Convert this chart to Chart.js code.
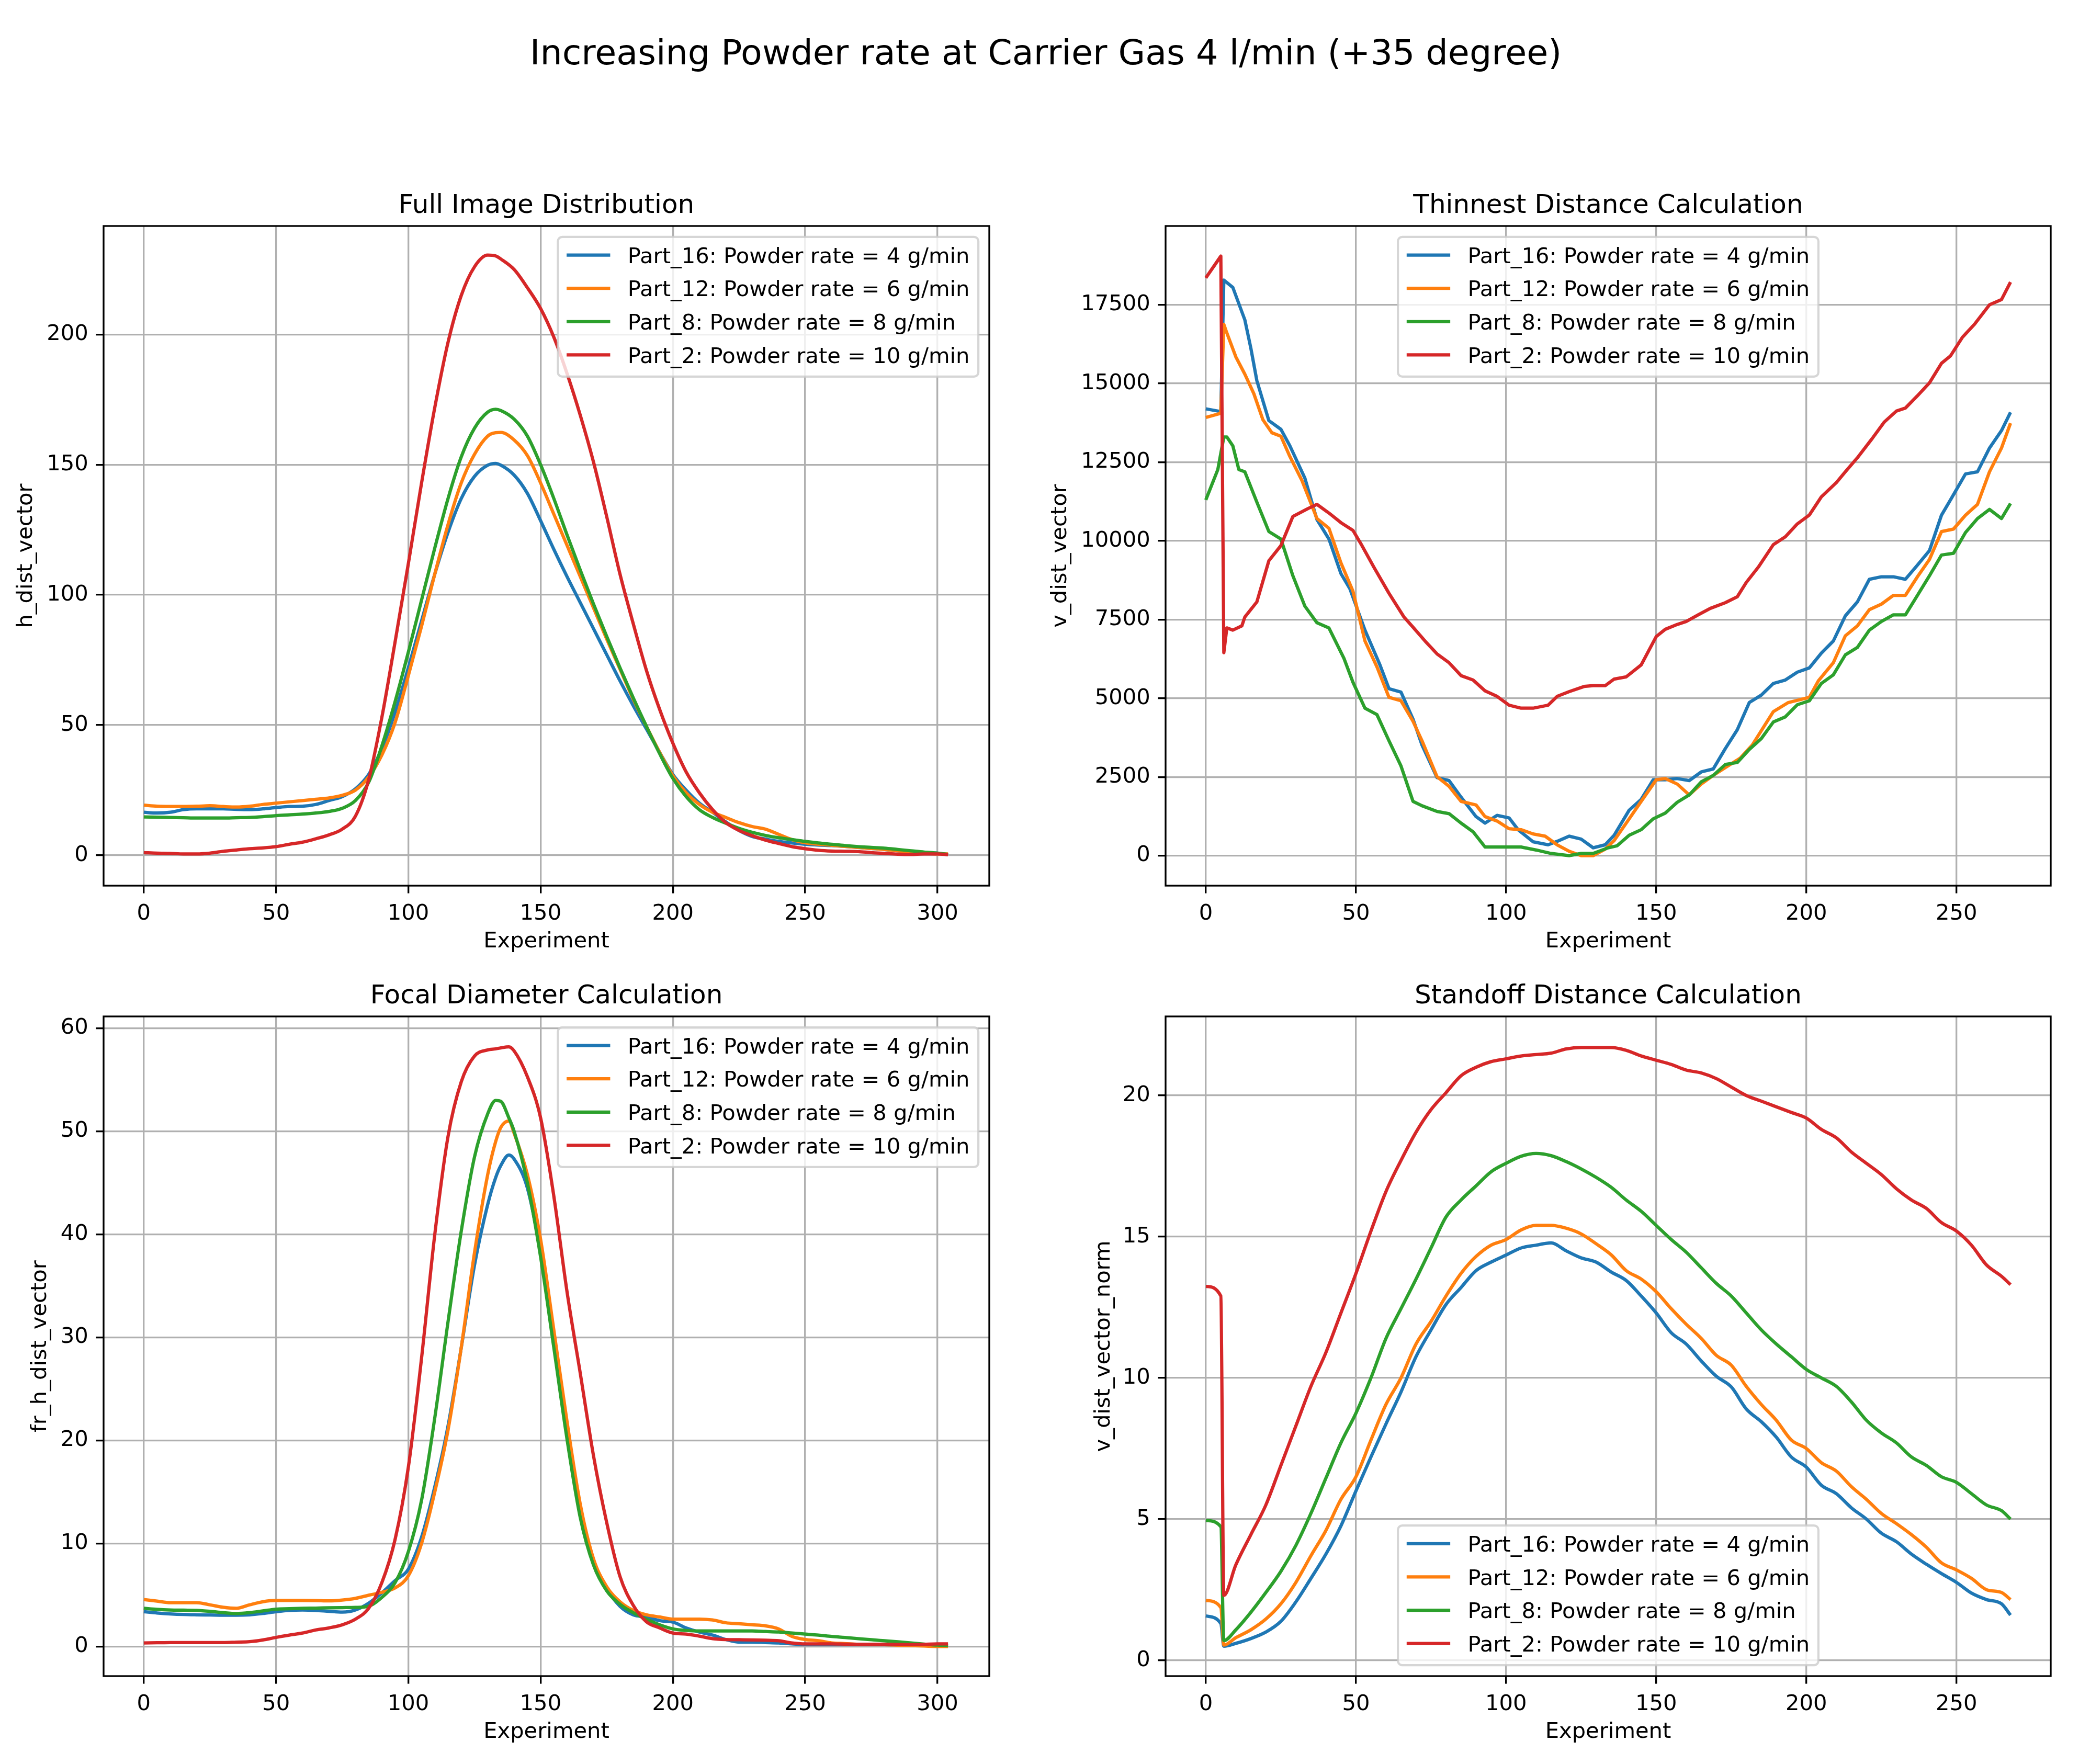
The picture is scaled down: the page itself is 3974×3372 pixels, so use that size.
<!DOCTYPE html>
<html>
<head>
<meta charset="utf-8">
<script src="https://cdn.jsdelivr.net/npm/chart.js@4.4.1/dist/chart.umd.min.js"></script>
<style>
  html, body { margin: 0; padding: 0; background: #fff; }
  body { width: 3974px; height: 3372px; position: relative; overflow: hidden; }
  #suptitle { position: absolute; left: 24px; width: 3950px; top: 67px; text-align: center;
              font-family: "DejaVu Sans", sans-serif; font-size: 66.7px; line-height: 66.7px; color: #000; }
  canvas { position: absolute; }
</style>
</head>
<body>
<div id="suptitle">Increasing Powder rate at Carrier Gas 4 l/min (+35 degree)</div>
<canvas id="chart_1" width="1911" height="1499" style="left:0px;top:334px"></canvas>
<canvas id="chart_2" width="1990" height="1499" style="left:1950px;top:334px"></canvas>
<canvas id="chart_3" width="1911" height="1499" style="left:0px;top:1845px"></canvas>
<canvas id="chart_4" width="1990" height="1499" style="left:1950px;top:1845px"></canvas>
<script>
const seriesLabels = [
  "Part_16: Powder rate = 4 g/min",
  "Part_12: Powder rate = 6 g/min",
  "Part_8: Powder rate = 8 g/min",
  "Part_2: Powder rate = 10 g/min",
];
const seriesColors = ["#1f77b4", "#ff7f0e", "#2ca02c", "#d62728"];

// Full Image Distribution
const fullX = [0,5,10,15,20,25,30,35,40,45,50,55,60,65,70,75,80,85,90,95,100,105,110,115,120,125,130,133,135,140,145,150,155,160,165,170,175,180,185,190,195,200,205,210,215,220,225,230,235,240,245,250,255,260,265,270,275,280,285,290,295,300,304];
const fullBlue = [16.5,16.2,16.5,17.5,17.8,17.8,17.8,17.6,17.5,17.8,18.3,18.7,18.8,19.5,21,22.5,25.5,31,41,55,72,90,108,124,137,145.5,149.8,150.5,149.8,146,139,128.5,117.5,107,97,87,77,67,57.5,48.5,39.5,31,25,20,16.5,12.8,9.5,7.2,6.2,5.3,4.7,4.2,3.9,3.7,3.4,3,2.6,2.2,1.7,1.2,1,0.8,0.2];
const fullOrange = [19.2,18.8,18.7,18.7,18.8,19,18.7,18.5,18.8,19.5,20,20.5,21,21.5,22,23,25,30,38.5,51,69,88,108,127,143,154,161,162.3,162.4,159.5,153.5,143,131,119,107,95,83,71.5,60,49.5,39.5,30.5,24,19.5,16.5,14.5,12.5,11,10,8,6,4.8,4.2,3.8,3.4,3,2.6,2.2,1.7,1.2,0.8,0.5,0.5];
const fullGreen = [14.7,14.6,14.5,14.4,14.3,14.3,14.3,14.4,14.5,14.8,15.2,15.5,15.8,16.2,16.8,18,21,28,42,59,78,98,118,137,153,164,170.2,171.3,170.8,167.5,161,150,137,123,109.5,96.5,84,72,60.5,49.5,39,29.5,22.5,17.5,14.5,12.3,10.3,8.8,7.6,6.7,6,5.3,4.7,4.2,3.7,3.3,3,2.7,2.2,1.7,1.2,0.8,0.3];
const fullRed = [1,0.8,0.7,0.5,0.5,0.8,1.5,2,2.5,2.8,3.3,4.2,5,6.3,7.8,10,15,29,53,82,112,143,172,197,215,226,230.5,230.2,229,225,218,210,199,185,169,151,130,108,89,71,56,43,32,24,17.5,12.5,9.5,7.5,5.8,4.5,3.3,2.5,1.9,1.6,1.5,1.4,1,0.7,0.4,0.3,0.5,0.5,0.2];

// Thinnest Distance Calculation
const thinBlueX = [0,4,5,6,9,13,15,17,21,25,28,33,37,41,45,48,53,58,61,65,69,72,77,81,85,90,93,97,101,104,109,114,117,121,125,129,133,136,141,145,149,153,157,161,165,169,173,177,181,185,189,193,197,201,205,209,213,217,221,225,229,233,237,241,245,248,253,257,261,265,268];
const thinBlue = [14195,14125,14100,18285,18050,17020,16120,15090,13820,13545,13020,11990,10680,10060,8960,8475,7165,6060,5305,5195,4340,3515,2480,2385,1860,1240,1035,1280,1200,825,440,345,455,620,525,250,345,650,1445,1790,2410,2410,2450,2385,2660,2755,3400,4000,4865,5100,5470,5580,5830,5965,6435,6820,7620,8060,8780,8860,8860,8780,9230,9690,10815,11300,12125,12195,12950,13505,14085];
const thinOrangeX = [0,5,6,7,10,13,16,19,22,25,28,32,37,41,45,49,53,57,61,65,69,72,77,81,85,90,93,97,101,105,109,113,117,121,125,129,133,136,141,145,150,153,157,161,165,169,173,178,182,189,194,201,204,209,213,217,221,225,229,233,237,241,245,249,253,257,261,265,268];
const thinOrange = [13920,14055,16880,16605,15845,15295,14675,13850,13435,13325,12680,11920,10710,10400,9300,8405,6820,5995,5030,4920,4270,3650,2510,2205,1725,1610,1240,1100,855,825,690,620,345,140,0,0,205,480,1170,1725,2410,2450,2275,1930,2275,2550,2795,3100,3515,4575,4865,5030,5555,6130,6985,7300,7815,7990,8270,8270,8860,9410,10295,10375,10815,11160,12195,12950,13740];
const thinGreenX = [0,4,6,7,9,11,13,17,21,25,29,33,37,41,46,49,53,57,61,65,69,72,77,81,85,89,93,100,105,110,115,121,125,129,134,137,141,145,149,153,157,161,165,169,173,177,181,185,189,193,197,201,205,209,213,217,221,225,229,233,237,241,245,249,253,257,261,265,268];
const thinGreen = [11300,12265,13300,13300,13020,12265,12195,11230,10295,10060,8890,7925,7400,7235,6270,5510,4685,4480,3650,2850,1725,1585,1405,1335,1035,760,275,275,275,180,70,0,70,70,250,315,650,825,1170,1350,1695,1930,2345,2550,2895,2960,3375,3720,4245,4410,4795,4920,5470,5745,6380,6615,7165,7440,7650,7650,8270,8890,9550,9605,10265,10710,11000,10710,11190];
const thinRedX = [0,5,6,7,9,12,13,17,21,25,29,34,37,41,45,49,52,56,61,66,69,73,77,81,85,89,93,97,101,105,109,114,117,121,126,129,133,136,140,145,150,153,157,160,164,168,173,177,180,184,189,193,197,201,205,210,213,217,222,226,230,233,237,241,245,248,252,256,261,265,268];
const thinRed = [18355,19045,6450,7235,7165,7300,7580,8060,9370,9850,10775,11025,11160,10885,10580,10335,9850,9160,8335,7580,7260,6820,6410,6130,5720,5580,5235,5060,4780,4685,4685,4780,5060,5210,5375,5400,5400,5610,5680,6060,6960,7190,7345,7440,7650,7855,8035,8225,8680,9165,9880,10130,10540,10820,11400,11850,12195,12640,13260,13780,14125,14220,14610,15020,15640,15875,16470,16880,17500,17665,18220];

// Focal Diameter Calculation
const focalX = [0,5,10,15,20,25,30,35,40,45,50,55,60,65,70,75,80,85,90,95,100,105,110,115,120,125,130,133,135,138,140,145,150,155,160,165,170,175,180,185,190,195,200,205,210,215,220,225,230,235,240,245,250,255,260,265,270,275,280,285,290,295,300,304];
const focalBlue = [3.37,3.25,3.16,3.1,3.07,3.05,3.03,3.03,3.07,3.2,3.37,3.5,3.54,3.5,3.41,3.33,3.54,4.2,5.2,6.4,7.5,10.6,15.5,21.4,29,37,42.9,45.5,46.7,47.7,47.3,44.5,38.2,29.8,21.4,13.4,8.3,5.6,3.9,3.07,2.86,2.5,2.36,1.8,1.4,1.1,0.67,0.42,0.42,0.38,0.34,0.25,0.17,0.17,0.17,0.17,0.17,0.17,0.17,0.15,0.13,0.1,0.08,0.08];
const focalOrange = [4.55,4.4,4.25,4.25,4.25,4.04,3.8,3.7,4.04,4.34,4.46,4.46,4.46,4.45,4.42,4.5,4.67,4.97,5.26,5.68,6.86,10,15,21,29,38.2,45.8,49,50.4,51,49.8,45.8,39.5,30.7,21.8,13.8,8.5,5.8,4.34,3.5,3.07,2.86,2.65,2.65,2.65,2.57,2.3,2.2,2.1,2,1.7,0.97,0.67,0.55,0.34,0.28,0.21,0.19,0.17,0.12,0.08,0.04,0,0];
const focalGreen = [3.7,3.6,3.54,3.52,3.5,3.41,3.28,3.2,3.28,3.45,3.62,3.66,3.7,3.72,3.75,3.77,3.79,3.9,4.76,6.2,9.2,14.2,22.2,31.5,40.3,47.5,51.7,53,52.9,51.3,50,45,37.8,29,20.1,12.5,7.9,5.4,4.1,3.28,2.65,2.1,1.7,1.55,1.5,1.5,1.5,1.5,1.5,1.45,1.4,1.3,1.2,1.1,0.97,0.87,0.76,0.65,0.55,0.45,0.34,0.23,0.13,0.1];
const focalRed = [0.34,0.36,0.38,0.38,0.38,0.38,0.38,0.42,0.46,0.63,0.88,1.1,1.3,1.6,1.8,2.1,2.65,3.7,6.2,10.4,17.4,28,40,49.5,54.8,57.3,57.9,58,58.1,58.2,57.8,55.3,51.3,43.7,34.4,26.5,18.5,12,6.8,4,2.4,1.8,1.3,1.2,1,0.76,0.67,0.65,0.63,0.6,0.55,0.34,0.25,0.25,0.25,0.23,0.21,0.21,0.21,0.19,0.17,0.2,0.25,0.25];

// Standoff Distance Calculation
const standX = [0,5,6,10,15,20,25,30,35,40,45,50,55,60,65,70,75,80,85,90,95,100,105,110,115,120,125,130,135,140,145,150,155,160,165,170,175,180,185,190,195,200,205,210,215,220,225,230,235,240,245,250,255,260,265,268];
const standBlue = [1.57,1.3,0.5,0.6,0.77,1,1.38,2.07,2.9,3.76,4.76,6,7.2,8.37,9.5,10.75,11.7,12.6,13.2,13.8,14.1,14.35,14.6,14.7,14.78,14.5,14.25,14.1,13.75,13.45,12.9,12.3,11.6,11.2,10.6,10.06,9.68,8.9,8.45,7.9,7.2,6.84,6.2,5.9,5.4,5,4.5,4.2,3.76,3.4,3.07,2.76,2.38,2.15,2,1.6];
const standOrange = [2.12,1.87,0.54,0.8,1.08,1.46,2,2.76,3.7,4.6,5.7,6.5,7.8,9.06,10,11.2,12,12.9,13.7,14.3,14.7,14.9,15.24,15.4,15.4,15.3,15.1,14.75,14.36,13.8,13.5,13.05,12.45,11.9,11.4,10.8,10.45,9.7,9.06,8.5,7.8,7.5,7,6.7,6.15,5.7,5.2,4.84,4.45,4,3.45,3.2,2.9,2.5,2.4,2.15];
const standGreen = [4.95,4.73,0.7,1.08,1.7,2.4,3.15,4.07,5.2,6.45,7.7,8.75,10,11.4,12.45,13.5,14.6,15.7,16.3,16.8,17.3,17.6,17.85,17.95,17.87,17.66,17.4,17.1,16.75,16.3,15.9,15.4,14.9,14.45,13.9,13.35,12.9,12.3,11.7,11.2,10.75,10.3,10,9.7,9.15,8.5,8.05,7.7,7.2,6.9,6.5,6.3,5.9,5.5,5.3,5];
const standRed = [13.24,12.9,2.3,3.38,4.45,5.5,6.9,8.3,9.7,10.9,12.3,13.7,15.2,16.6,17.7,18.7,19.5,20.1,20.7,21,21.2,21.3,21.4,21.45,21.5,21.65,21.7,21.7,21.7,21.6,21.4,21.25,21.1,20.9,20.8,20.6,20.3,20,19.8,19.6,19.4,19.2,18.8,18.5,18,17.6,17.2,16.7,16.3,16,15.5,15.2,14.7,14,13.6,13.3];

// tick labels
const xTicksLong = [0,50,100,150,200,250,300];
const xTicksShort = [0,50,100,150,200,250];
const fullYTicks = [0,50,100,150,200];
const thinYTicks = [0,2500,5000,7500,10000,12500,15000,17500];
const focalYTicks = [0,10,20,30,40,50,60];
const standYTicks = [0,5,10,15,20];

const PT = 300 / 72;
const FAMILY = '"DejaVu Sans", sans-serif';
const tickFont = { family: FAMILY, size: 10 * PT };
const labelFont = { family: FAMILY, size: 10 * PT, lineHeight: 1.2 };

// spines, axes title and matplotlib-style legend drawn inside the plot area
const mplDecor = {
  id: "mplDecor",
  afterDatasetsDraw(chart, args, o) {
    const { ctx, chartArea: a } = chart;
    ctx.save();
    ctx.strokeStyle = "#000";
    ctx.lineWidth = 0.8 * PT;
    ctx.strokeRect(a.left, a.top, a.right - a.left, a.bottom - a.top);

    ctx.fillStyle = "#000";
    ctx.font = 12 * PT + "px " + FAMILY;
    ctx.textAlign = "center";
    ctx.textBaseline = "alphabetic";
    ctx.fillText(o.title, (a.left + a.right) / 2, a.top - 6 * PT);

    const fs = 10 * PT;
    ctx.font = fs + "px " + FAMILY;
    const textW = Math.max(...seriesLabels.map(t => ctx.measureText(t).width));
    const pad = 0.4 * fs, hLen = 2 * fs, hPad = 0.8 * fs, rowH = 42.8, gap = 0.5 * fs, bax = 0.5 * fs;
    const w = 2 * pad + hLen + hPad + textW;
    const h = 2 * pad + 4 * rowH + 3 * gap;
    let x0, y0;
    if (o.legendLoc === "upper right") { x0 = a.right - bax - w; y0 = a.top + bax; }
    else if (o.legendLoc === "upper center") { x0 = (a.left + a.right) / 2 - w / 2; y0 = a.top + bax; }
    else { x0 = (a.left + a.right) / 2 - w / 2; y0 = a.bottom - bax - h; }
    ctx.beginPath();
    ctx.roundRect(x0, y0, w, h, 0.2 * fs);
    ctx.fillStyle = "rgba(255,255,255,0.8)";
    ctx.fill();
    ctx.strokeStyle = "rgba(204,204,204,0.8)";
    ctx.lineWidth = PT;
    ctx.stroke();
    seriesLabels.forEach((label, i) => {
      const rowTop = y0 + pad + i * (rowH + gap);
      ctx.beginPath();
      ctx.moveTo(x0 + pad, rowTop + 18);
      ctx.lineTo(x0 + pad + hLen, rowTop + 18);
      ctx.strokeStyle = seriesColors[i];
      ctx.lineWidth = 1.5 * PT;
      ctx.stroke();
      ctx.fillStyle = "#000";
      ctx.textAlign = "left";
      ctx.fillText(label, x0 + pad + hLen + hPad, rowTop + 33.3);
    });
    ctx.restore();
  },
};

function gridOpts() {
  return { color: "#b0b0b0", lineWidth: 0.8 * PT, tickColor: "#000", tickWidth: 0.8 * PT, tickLength: 3.5 * PT };
}

function makeChart(id, cfg) {
  return new Chart(document.getElementById(id), {
    type: "line",
    data: {
      datasets: cfg.ys.map((ys, i) => ({
        label: seriesLabels[i],
        data: ys.map((y, j) => ({ x: cfg.xs[i][j], y: y })),
        borderColor: seriesColors[i],
        backgroundColor: seriesColors[i],
        borderWidth: 1.5 * PT,
        pointRadius: 0,
        fill: false,
        tension: 0,
        cubicInterpolationMode: cfg.smooth ? "monotone" : "default",
        borderJoinStyle: "round",
        order: 3 - i,
      })),
    },
    options: {
      responsive: false,
      animation: false,
      layout: { padding: { left: 0, top: 98, right: 20, bottom: 0 } },
      plugins: {
        legend: { display: false },
        tooltip: { enabled: false },
        title: { display: false },
        mplDecor: { title: cfg.title, legendLoc: cfg.legendLoc },
      },
      scales: {
        x: {
          type: "linear",
          min: cfg.xMin,
          max: cfg.xMax,
          afterBuildTicks: s => { s.ticks = cfg.xTicks.map(v => ({ value: v })); },
          afterFit: s => { s.height = 140; },
          ticks: { font: tickFont, color: "#000", padding: 3.5 * PT, maxRotation: 0, autoSkip: false, callback: v => String(v) },
          grid: gridOpts(),
          border: { display: false },
          title: { display: true, text: "Experiment", font: labelFont, color: "#000", padding: { top: 0, bottom: 7.4 } },
        },
        y: {
          type: "linear",
          min: cfg.yMin,
          max: cfg.yMax,
          afterBuildTicks: s => { s.ticks = cfg.yTicks.map(v => ({ value: v })); },
          afterFit: s => { s.width = cfg.yAxisWidth; },
          ticks: { font: tickFont, color: "#000", padding: 3.5 * PT, autoSkip: false, callback: v => String(v) },
          grid: gridOpts(),
          border: { display: false },
          title: { display: true, text: cfg.ylabel, font: labelFont, color: "#000", padding: { top: cfg.yTitlePad, bottom: 0 } },
        },
      },
    },
    plugins: [mplDecor],
  });
}

makeChart("chart_1", {
  title: "Full Image Distribution", ylabel: "h_dist_vector",
  xs: [fullX, fullX, fullX, fullX], ys: [fullBlue, fullOrange, fullGreen, fullRed],
  xMin: -15.2, xMax: 319.6, yMin: -11.7, yMax: 241.7,
  xTicks: xTicksLong, yTicks: fullYTicks, yAxisWidth: 198, yTitlePad: 25.5,
  legendLoc: "upper right", smooth: true,
});
makeChart("chart_2", {
  title: "Thinnest Distance Calculation", ylabel: "v_dist_vector",
  xs: [thinBlueX, thinOrangeX, thinGreenX, thinRedX], ys: [thinBlue, thinOrange, thinGreen, thinRed],
  xMin: -13.4, xMax: 281.4, yMin: -953, yMax: 20003,
  xTicks: xTicksShort, yTicks: thinYTicks, yAxisWidth: 278, yTitlePad: 52.5,
  legendLoc: "upper center", smooth: false,
});
makeChart("chart_3", {
  title: "Focal Diameter Calculation", ylabel: "fr_h_dist_vector",
  xs: [focalX, focalX, focalX, focalX], ys: [focalBlue, focalOrange, focalGreen, focalRed],
  xMin: -15.2, xMax: 319.6, yMin: -2.88, yMax: 61.15,
  xTicks: xTicksLong, yTicks: focalYTicks, yAxisWidth: 198, yTitlePad: 52.1,
  legendLoc: "upper right", smooth: true,
});
makeChart("chart_4", {
  title: "Standoff Distance Calculation", ylabel: "v_dist_vector_norm",
  xs: [standX, standX, standX, standX], ys: [standBlue, standOrange, standGreen, standRed],
  xMin: -13.4, xMax: 281.4, yMin: -0.56, yMax: 22.8,
  xTicks: xTicksShort, yTicks: standYTicks, yAxisWidth: 278, yTitlePad: 135,
  legendLoc: "lower center", smooth: true,
});
</script>
</body>
</html>
